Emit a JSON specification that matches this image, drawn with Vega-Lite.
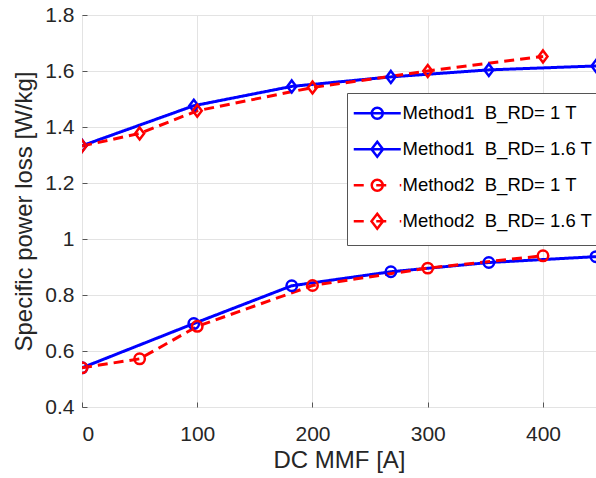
{
  "$schema": "https://vega.github.io/schema/vega-lite/v6.json",
  "width": 514,
  "height": 392,
  "autosize": {"type": "none"},
  "padding": {"left": 82, "top": 15, "right": 0, "bottom": 71},
  "background": "white",
  "config": {
    "font": "Liberation Sans",
    "view": {"stroke": "#8a8a8a", "strokeWidth": 1},
    "axis": {
      "labelFont": "Liberation Sans",
      "titleFont": "Liberation Sans",
      "labelFontSize": 21,
      "titleFontSize": 24,
      "labelColor": "#262626",
      "titleColor": "#262626",
      "titleFontWeight": "normal",
      "gridColor": "#e3e3e3",
      "gridWidth": 1,
      "domain": false,
      "tickColor": "#555555",
      "tickSize": -5
    },
    "legend": {
      "labelFont": "Liberation Sans",
      "labelFontSize": 18.5,
      "labelColor": "#000000",
      "labelLimit": 0
    }
  },
  "data": {
    "values": [
      {"series": "Method1\u00a0\u00a0B_RD= 1 T", "method": "Method1", "mmf": 0, "loss": 0.540},
      {"series": "Method1\u00a0\u00a0B_RD= 1 T", "method": "Method1", "mmf": 97, "loss": 0.698},
      {"series": "Method1\u00a0\u00a0B_RD= 1 T", "method": "Method1", "mmf": 182, "loss": 0.833},
      {"series": "Method1\u00a0\u00a0B_RD= 1 T", "method": "Method1", "mmf": 268, "loss": 0.883},
      {"series": "Method1\u00a0\u00a0B_RD= 1 T", "method": "Method1", "mmf": 353, "loss": 0.916},
      {"series": "Method1\u00a0\u00a0B_RD= 1 T", "method": "Method1", "mmf": 446, "loss": 0.937},
      {"series": "Method1\u00a0\u00a0B_RD= 1.6 T", "method": "Method1", "mmf": 0, "loss": 1.333},
      {"series": "Method1\u00a0\u00a0B_RD= 1.6 T", "method": "Method1", "mmf": 97, "loss": 1.476},
      {"series": "Method1\u00a0\u00a0B_RD= 1.6 T", "method": "Method1", "mmf": 182, "loss": 1.545},
      {"series": "Method1\u00a0\u00a0B_RD= 1.6 T", "method": "Method1", "mmf": 268, "loss": 1.579},
      {"series": "Method1\u00a0\u00a0B_RD= 1.6 T", "method": "Method1", "mmf": 353, "loss": 1.604},
      {"series": "Method1\u00a0\u00a0B_RD= 1.6 T", "method": "Method1", "mmf": 446, "loss": 1.618},
      {"series": "Method2\u00a0\u00a0B_RD= 1 T", "method": "Method2", "mmf": 0, "loss": 0.540},
      {"series": "Method2\u00a0\u00a0B_RD= 1 T", "method": "Method2", "mmf": 50, "loss": 0.572},
      {"series": "Method2\u00a0\u00a0B_RD= 1 T", "method": "Method2", "mmf": 100, "loss": 0.688},
      {"series": "Method2\u00a0\u00a0B_RD= 1 T", "method": "Method2", "mmf": 200, "loss": 0.834},
      {"series": "Method2\u00a0\u00a0B_RD= 1 T", "method": "Method2", "mmf": 300, "loss": 0.896},
      {"series": "Method2\u00a0\u00a0B_RD= 1 T", "method": "Method2", "mmf": 400, "loss": 0.940},
      {"series": "Method2\u00a0\u00a0B_RD= 1.6 T", "method": "Method2", "mmf": 0, "loss": 1.332},
      {"series": "Method2\u00a0\u00a0B_RD= 1.6 T", "method": "Method2", "mmf": 50, "loss": 1.377},
      {"series": "Method2\u00a0\u00a0B_RD= 1.6 T", "method": "Method2", "mmf": 100, "loss": 1.458},
      {"series": "Method2\u00a0\u00a0B_RD= 1.6 T", "method": "Method2", "mmf": 200, "loss": 1.541},
      {"series": "Method2\u00a0\u00a0B_RD= 1.6 T", "method": "Method2", "mmf": 300, "loss": 1.600},
      {"series": "Method2\u00a0\u00a0B_RD= 1.6 T", "method": "Method2", "mmf": 400, "loss": 1.652}
    ]
  },
  "encoding": {
    "x": {
      "field": "mmf", "type": "quantitative",
      "scale": {"domain": [0, 446], "nice": false, "zero": false},
      "axis": {"values": [0, 100, 200, 300, 400], "title": "DC MMF [A]", "labelPadding": 21, "titlePadding": 4}
    },
    "y": {
      "field": "loss", "type": "quantitative",
      "scale": {"domain": [0.4, 1.8], "nice": false, "zero": false},
      "axis": {"values": [0.4, 0.6, 0.8, 1, 1.2, 1.4, 1.6, 1.8], "format": "~g", "title": "Specific power loss [W/kg]", "labelPadding": 13, "titlePadding": 8}
    },
    "color": {
      "field": "series", "type": "nominal",
      "scale": {
        "domain": ["Method1\u00a0\u00a0B_RD= 1 T", "Method1\u00a0\u00a0B_RD= 1.6 T", "Method2\u00a0\u00a0B_RD= 1 T", "Method2\u00a0\u00a0B_RD= 1.6 T"],
        "range": ["#0000ff", "#0000ff", "#ff0000", "#ff0000"]
      },
      "legend": {
        "title": null,
        "orient": "none",
        "legendX": 265,
        "legendY": 78,
        "fillColor": "white",
        "strokeColor": "#555555",
        "padding": 11,
        "rowPadding": 12,
        "symbolSize": 100,
        "symbolStrokeWidth": 2.5,
        "symbolOffset": 10,
        "labelOffset": 16
      }
    }
  },
  "layer": [
    {
      "mark": {"type": "line", "strokeWidth": 3, "clip": true},
      "encoding": {
        "strokeDash": {
          "field": "method", "type": "nominal",
          "scale": {"domain": ["Method1", "Method2"], "range": [[1, 0], [10, 6]]},
          "legend": null
        }
      }
    },
    {
      "transform": [{"filter": "indexof(datum.series, '1.6') < 0"}],
      "mark": {"type": "point", "shape": "circle", "filled": false, "strokeWidth": 2.5, "size": 110, "opacity": 1, "clip": true}
    },
    {
      "transform": [{"filter": "indexof(datum.series, '1.6') >= 0"}],
      "mark": {"type": "point", "shape": "M0,-1.2L0.9,0L0,1.2L-0.9,0Z", "filled": false, "strokeWidth": 2.5, "size": 100, "opacity": 1, "clip": true}
    },
    {
      "transform": [{"filter": "false"}],
      "mark": {"type": "point", "filled": false, "strokeWidth": 2.5, "size": 100, "opacity": 1},
      "encoding": {
        "shape": {
          "field": "series", "type": "nominal",
          "scale": {
            "domain": ["Method1\u00a0\u00a0B_RD= 1 T", "Method1\u00a0\u00a0B_RD= 1.6 T", "Method2\u00a0\u00a0B_RD= 1 T", "Method2\u00a0\u00a0B_RD= 1.6 T"],
            "range": [
              "M-4.7,0H4.7M1.1,0A1.1,1.1 0 1,1 -1.1,0A1.1,1.1 0 1,1 1.1,0",
              "M-4.7,0H4.7M0,-1.5L1.15,0L0,1.5L-1.15,0Z",
              "M-4.7,0H-2.7M-0.2,0H1.8M4.5,0H4.8M1.1,0A1.1,1.1 0 1,1 -1.1,0A1.1,1.1 0 1,1 1.1,0",
              "M-4.7,0H-2.7M-0.2,0H1.8M4.5,0H4.8M0,-1.5L1.15,0L0,1.5L-1.15,0Z"
            ]
          },
          "legend": {}
        }
      }
    }
  ]
}
